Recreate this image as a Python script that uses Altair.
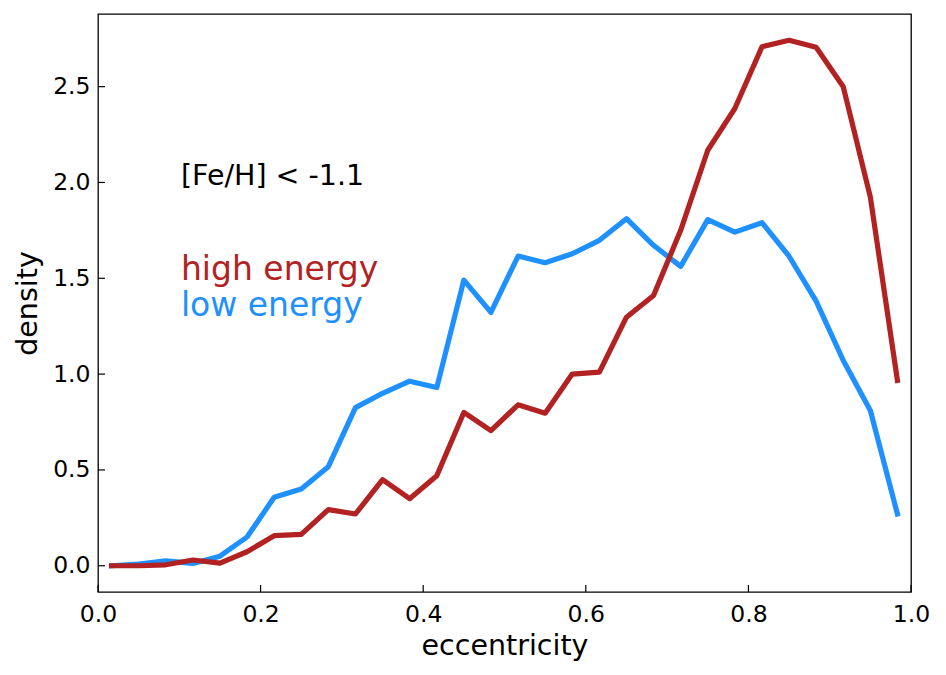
import altair as alt
import pandas as pd

ecc = [0.0167, 0.05, 0.0833, 0.1167, 0.15, 0.1833, 0.2167, 0.25, 0.2833, 0.3167,
       0.35, 0.3833, 0.4167, 0.45, 0.4833, 0.5167, 0.55, 0.5833, 0.6167, 0.65,
       0.6833, 0.7167, 0.75, 0.7833, 0.8167, 0.85, 0.8833, 0.9167, 0.95, 0.9833]
high = [0.0, 0.0, 0.005, 0.03, 0.014, 0.073, 0.157, 0.164, 0.293, 0.27,
        0.449, 0.35, 0.47, 0.80, 0.705, 0.84, 0.796, 1.0, 1.01, 1.297,
        1.41, 1.75, 2.168, 2.386, 2.708, 2.742, 2.705, 2.499, 1.924, 0.967]
low = [0.0, 0.009, 0.025, 0.012, 0.05, 0.15, 0.357, 0.40, 0.517, 0.825,
       0.90, 0.963, 0.93, 1.49, 1.322, 1.616, 1.581, 1.628, 1.698, 1.811,
       1.672, 1.562, 1.806, 1.741, 1.79, 1.615, 1.381, 1.071, 0.81, 0.27]

x_ticks = [0.0, 0.2, 0.4, 0.6, 0.8, 1.0]
y_ticks = [0.0, 0.5, 1.0, 1.5, 2.0, 2.5]

ann_text = ["[Fe/H] < -1.1", "high energy", "low energy"]
ann_x = [0.102, 0.102, 0.102]
ann_y = [1.985, 1.493, 1.302]
ann_color = ["black", "#b22222", "#1e90ff"]
ann_size = [28.5, 33, 33]

W, H = 813, 578
XDOM = [0, 1]
YDOM = [-0.137, 2.879]

df_high = pd.DataFrame({"ecc": ecc, "density": high})
df_low = pd.DataFrame({"ecc": ecc, "density": low})

xs = alt.Scale(domain=XDOM, nice=False, zero=False)
ys = alt.Scale(domain=YDOM, nice=False, zero=False)

xaxis = alt.Axis(values=x_ticks, format=".1f", title="eccentricity", tickSize=0,
                 domain=False, grid=False, labelPadding=10, labelFlush=False,
                 titleY=62, titleBaseline="alphabetic")
yaxis = alt.Axis(values=y_ticks, format=".1f", title="density", tickSize=0,
                 domain=False, grid=False, labelPadding=8, labelFlush=False,
                 titleX=-62, titleBaseline="alphabetic")

def X(field):
    return alt.X(field, scale=xs, axis=xaxis, title="eccentricity")

def Y(field):
    return alt.Y(field, scale=ys, axis=yaxis, title="density")

blue = alt.Chart(df_low).mark_line(color="#1e90ff", strokeWidth=5.2, strokeJoin="round", strokeCap="square").encode(
    x=X("ecc:Q"), y=Y("density:Q"),
)
red = alt.Chart(df_high).mark_line(color="#b22222", strokeWidth=5.2, strokeJoin="round", strokeCap="square").encode(
    x=X("ecc:Q"), y=Y("density:Q"),
)

xt = alt.Chart(pd.DataFrame({"t": x_ticks})).mark_rule(color="black", strokeWidth=1.2).encode(
    x=X("t:Q"),
    y=alt.value(H), y2=alt.value(H - 7),
)
yt = alt.Chart(pd.DataFrame({"t": y_ticks})).mark_rule(color="black", strokeWidth=1.2).encode(
    y=Y("t:Q"),
    x=alt.value(0), x2=alt.value(7),
)

ann_df = pd.DataFrame({"text": ann_text, "x": ann_x, "y": ann_y, "c": ann_color, "s": ann_size})
ann = alt.Chart(ann_df).mark_text(align="left", baseline="alphabetic", font="DejaVu Sans").encode(
    x=X("x:Q"),
    y=Y("y:Q"),
    text="text:N",
    color=alt.Color("c:N", scale=None),
    size=alt.Size("s:Q", scale=None),
)

chart = alt.layer(blue, red, xt, yt, ann).properties(
    width=W, height=H,
    autosize=alt.AutoSizeParams(type="none"),
    padding={"left": 90, "top": 6, "right": 20, "bottom": 75},
    background="white",
).configure_view(stroke="black", strokeWidth=1.3).configure_axis(
    labelFont="DejaVu Sans", titleFont="DejaVu Sans",
    labelFontSize=23.5, titleFontSize=28.5,
    labelColor="black", titleColor="black", titleFontWeight="normal",
)

chart.save("out.html", embed_options={"renderer": "svg", "actions": False})
